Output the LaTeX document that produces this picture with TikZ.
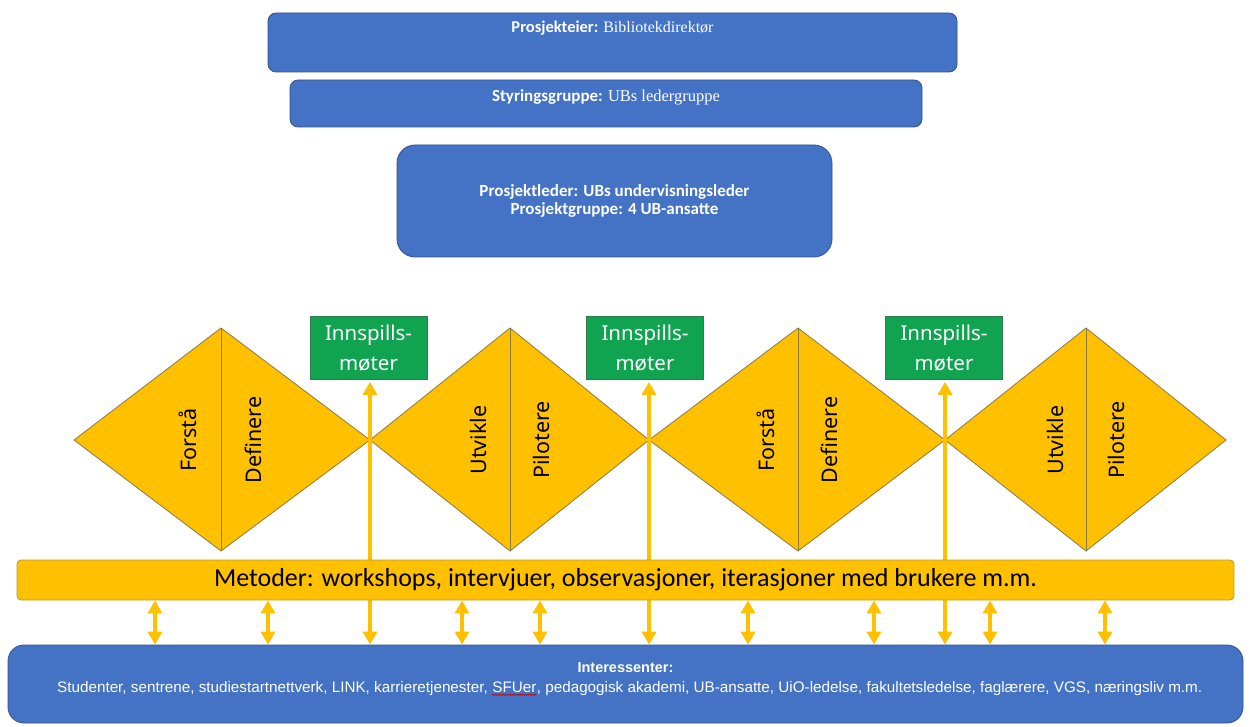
\documentclass[tikz,border=0pt]{standalone}
\usepackage{fontspec}
\setmainfont{Carlito}
\newfontfamily\notosans{Noto Sans}
\newfontfamily\libsans{Liberation Sans}
\newfontfamily\libserif{Liberation Serif}
\usetikzlibrary{arrows.meta,decorations.pathmorphing}
\definecolor{ublue}{HTML}{4472C4}
\definecolor{ubluedark}{HTML}{2F528F}
\definecolor{gold}{HTML}{FFC000}
\definecolor{golddark}{HTML}{8A7A45}
\definecolor{barline}{HTML}{B89A3A}
\definecolor{ugreen}{HTML}{10A350}
\definecolor{ugreendark}{HTML}{2E7D4F}
\tikzset{
  bluebox/.style={draw=ubluedark, line width=0.8pt, fill=ublue, rounded corners=#1, inner sep=0pt},
  bluebox/.default=8pt,
  wtext/.style={text=white, inner sep=0pt, align=center},
  inttext/.style={text=white, inner sep=0pt, font=\libsans\fontsize{15.25}{17}\selectfont},
  greenbox/.style={draw=ugreendark, line width=0.8pt, fill=ugreen, text=white, align=center,
    minimum width=117pt, minimum height=63pt, inner sep=0pt,
    font=\notosans\fontsize{20.5}{30}\selectfont},
  diam/.style={draw=golddark, line width=0.8pt, fill=gold},
  phase/.style={rotate=90, inner sep=0pt, font=\notosans\fontsize{21.5}{24}\selectfont},
  goldarrow/.style={draw=gold, line width=3.8pt, {Triangle[width=14pt,length=13pt]}-{Triangle[width=14pt,length=13pt]}},
}
\begin{document}
\begin{tikzpicture}[x=1pt,y=-1pt]
\useasboundingbox (0,0) rectangle (1250,727);
\fill[white] (0,0) rectangle (1250,727);

% top boxes
\node[bluebox, minimum width=689pt, minimum height=59pt] (pe) at (612.5,42.5) {};
\node[wtext, font=\fontsize{16.5}{18}\selectfont] (pet) at (612.5,28) {\textbf{Prosjekteier:} {\libserif\fontsize{16}{18}\selectfont Bibliotekdirektør}};
\node[bluebox, minimum width=632pt, minimum height=47pt] (sg) at (606,103.5) {};
\node[wtext, font=\fontsize{17}{18}\selectfont] (sgt) at (606,97) {\textbf{Styringsgruppe:} {\libserif\fontsize{16.5}{18}\selectfont UBs ledergruppe}};
\node[bluebox=18pt, minimum width=435pt, minimum height=112pt, wtext,
      font=\bfseries\fontsize{17}{18.5}\selectfont] (pl) at (614.5,201)
      {Prosjektleder: UBs undervisningsleder\\Prosjektgruppe: 4 UB-ansatte};

% diamonds
\foreach \l/\c/\r/\n in {74/221/370/1, 370/510/649/2, 649/798/945/3, 945/1086/1226/4}{
  \coordinate (dl\n) at (\l,440);
  \coordinate (dt\n) at (\c,328);
  \coordinate (dr\n) at (\r,440);
  \coordinate (db\n) at (\c,551);
  \filldraw[diam] (dl\n) -- (dt\n) -- (dr\n) -- (db\n) -- cycle;
  \draw[golddark, line width=0.8pt] (dt\n) -- (db\n);
}
\node[phase] (f1) at (188,440) {Forstå};
\node[phase] (d1) at (253,440) {Definere};
\node[phase] (u1) at (478,440) {Utvikle};
\node[phase] (p1) at (541,440) {Pilotere};
\node[phase] (f2) at (766,440) {Forstå};
\node[phase] (d2) at (829,440) {Definere};
\node[phase] (u2) at (1055,440) {Utvikle};
\node[phase] (p2) at (1116,440) {Pilotere};

% green boxes
\node[greenbox] (g1) at (368.5,348) {Innspills-\\møter};
\node[greenbox] (g2) at (645,348) {Innspills-\\møter};
\node[greenbox] (g3) at (944,348) {Innspills-\\møter};

% interessenter box
\node[bluebox=16pt, minimum width=1235pt, minimum height=78pt] (int) at (625.5,684) {};
\node[wtext, font=\libsans\bfseries\fontsize{14.5}{16}\selectfont] (intt) at (625.5,668) {Interessenter:};
\node[inttext, anchor=base west] (ia) at (57,692)
 {Studenter, sentrene, studiestartnettverk, LINK, karrieretjenester,};
\node[inttext, anchor=base west] (ib) at ([xshift=4.2pt]ia.base east) {SFUer};
\node[inttext, anchor=base west] (ic) at (ib.base east)
 {, pedagogisk akademi, UB-ansatte, UiO-ledelse, fakultetsledelse, faglærere, VGS, næringsliv m.m.};
\draw[red!80!black, line width=0.6pt, decorate, decoration={snake, amplitude=0.7pt, segment length=2.5pt}]
  ([yshift=-2.8pt]ib.base west) -- ([yshift=-2.8pt]ib.base east);

% long arrows from green boxes to interessenter
\draw[goldarrow, shorten <=2pt] (dr1 |- g1.south) -- (dr1 |- int.north);
\draw[goldarrow, shorten <=2pt] (dr2 |- g2.south) -- (dr2 |- int.north);
\draw[goldarrow, shorten <=2pt] (dr3 |- g3.south) -- (dr3 |- int.north);

% metoder bar
\node[draw=barline, line width=0.8pt, fill=gold, rounded corners=4pt, minimum width=1217pt,
      minimum height=40pt, inner sep=0pt, font=\fontsize{26}{28}\selectfont] (met) at (625.5,580)
      {Metoder: workshops, intervjuer, observasjoner, iterasjoner med brukere m.m.};

% double arrows
\foreach \x in {155,268,462,540,748,874,990,1105}{
  \coordinate (ax) at (\x,620);
  \draw[goldarrow] (ax |- met.south) -- (ax |- int.north);
}
\end{tikzpicture}
\end{document}
